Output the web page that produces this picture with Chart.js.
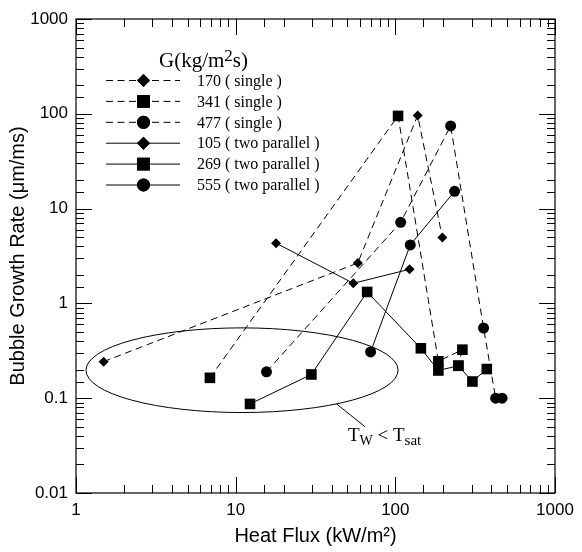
<!DOCTYPE html>
<html>
<head>
<meta charset="utf-8">
<script src="https://cdn.jsdelivr.net/npm/chart.js@4.4.0/dist/chart.umd.min.js"></script>
<style>
  html, body { margin: 0; padding: 0; background: #fff; }
</style>
</head>
<body>
<canvas id="growthChart" width="582" height="552"></canvas>
<script>
// heat flux (kW/m2) and bubble growth rate (um/ms)
var single170X = [1.49, 58.2, 138, 197];
var single170Y = [0.243, 2.67, 96, 4.96];
var single341X = [6.9, 104, 186, 263, 248];
var single341Y = [0.164, 95, 0.245, 0.325, 0.22];
var single477X = [15.6, 108, 222, 357, 425, 466];
var single477Y = [0.19, 7.17, 74.5, 0.55, 0.1, 0.1];
var par105X = [17.9, 54.5, 122.8];
var par105Y = [4.32, 1.63, 2.29];
var par269X = [12.3, 29.8, 66.6, 144.5, 186, 248, 304, 374];
var par269Y = [0.087, 0.178, 1.32, 0.336, 0.196, 0.22, 0.15, 0.203];
var par555X = [70, 124, 235];
var par555Y = [0.308, 4.14, 15.2];

var seriesLabels = ['170 ( single )', '341 ( single )', '477 ( single )',
  '105 ( two parallel )', '269 ( two parallel )', '555 ( two parallel )'];

// region marked "Tw < Tsat" (data units)
var ellipseX = [1.155, 104];
var ellipseY = [0.0706, 0.552];
var leaderX = [42.9, 64.5];
var leaderY = [0.0869, 0.0501];
var noteX = 50.5;
var noteY = 0.0354;

function toPoints(xs, ys) {
  return xs.map(function (x, i) { return { x: x, y: ys[i] }; });
}

function isDecade(v) {
  var l = Math.log10(v);
  return Math.abs(l - Math.round(l)) < 1e-6;
}

var dash = [7, 4.5];

function series(label, xs, ys, style, radius, dashed) {
  return {
    label: label,
    data: toPoints(xs, ys),
    showLine: true,
    borderColor: '#000',
    backgroundColor: '#000',
    borderWidth: 1,
    borderDash: dashed ? dash : [],
    pointStyle: style,
    pointRadius: radius,
    pointHoverRadius: radius,
    pointBorderWidth: 0
  };
}

var datasets = [
  series(seriesLabels[0], single170X, single170Y, 'rectRot', 5, true),
  series(seriesLabels[1], single341X, single341Y, 'rect', 7.5, true),
  series(seriesLabels[2], single477X, single477Y, 'circle', 5.5, true),
  series(seriesLabels[3], par105X, par105Y, 'rectRot', 5, false),
  series(seriesLabels[4], par269X, par269Y, 'rect', 7.5, false),
  series(seriesLabels[5], par555X, par555Y, 'circle', 5.5, false)
];

var legendStyle = [
  { style: 'rectRot', r: 6.5 }, { style: 'rect', r: 9 }, { style: 'circle', r: 6.5 },
  { style: 'rectRot', r: 6.5 }, { style: 'rect', r: 9 }, { style: 'circle', r: 6.5 }
];

function drawParts(ctx, parts, x, y) {
  parts.forEach(function (p) {
    ctx.font = p.size + 'px "Liberation Serif", "Times New Roman", serif';
    ctx.fillText(p.t, x, y + (p.dy || 0));
    x += ctx.measureText(p.t).width;
  });
}

function line(ctx, x1, y1, x2, y2) {
  ctx.beginPath();
  ctx.moveTo(x1, y1);
  ctx.lineTo(x2, y2);
  ctx.stroke();
}

var framePlugin = {
  id: 'framePlugin',
  afterDraw: function (chart) {
    var ctx = chart.ctx, a = chart.chartArea;
    var xs = chart.scales.x, ys = chart.scales.y;
    ctx.save();
    ctx.strokeStyle = '#000';
    ctx.fillStyle = '#000';
    ctx.lineWidth = 1.2;
    ctx.setLineDash([]);
    ctx.strokeRect(a.left, a.top, a.right - a.left, a.bottom - a.top);

    // inward ticks on all four sides
    ctx.lineWidth = 1;
    xs.ticks.forEach(function (t) {
      var px = Math.round(xs.getPixelForValue(t.value)) + 0.5;
      var len = isDecade(t.value) ? 16 : 8;
      line(ctx, px, a.bottom, px, a.bottom - len);
      line(ctx, px, a.top, px, a.top + len);
    });
    ys.ticks.forEach(function (t) {
      var py = Math.round(ys.getPixelForValue(t.value)) + 0.5;
      var len = isDecade(t.value) ? 16 : 8;
      line(ctx, a.left, py, a.left + len, py);
      line(ctx, a.right, py, a.right - len, py);
    });

    // Tw < Tsat region
    var ex1 = xs.getPixelForValue(ellipseX[0]), ex2 = xs.getPixelForValue(ellipseX[1]);
    var ey1 = ys.getPixelForValue(ellipseY[0]), ey2 = ys.getPixelForValue(ellipseY[1]);
    ctx.beginPath();
    ctx.ellipse((ex1 + ex2) / 2, (ey1 + ey2) / 2, Math.abs(ex2 - ex1) / 2, Math.abs(ey2 - ey1) / 2, 0, 0, Math.PI * 2);
    ctx.stroke();
    line(ctx, xs.getPixelForValue(leaderX[0]), ys.getPixelForValue(leaderY[0]),
      xs.getPixelForValue(leaderX[1]), ys.getPixelForValue(leaderY[1]));
    ctx.textBaseline = 'alphabetic';
    drawParts(ctx, [
      { t: 'T', size: 19 }, { t: 'W', size: 14, dy: 4 }, { t: ' < T', size: 19 }, { t: 'sat', size: 15, dy: 4 }
    ], xs.getPixelForValue(noteX), ys.getPixelForValue(noteY));

    // legend
    var lx = a.left + 30, mx = a.left + 67.5, rx = a.left + 104, tx = a.left + 121;
    drawParts(ctx, [
      { t: 'G(kg/m', size: 21 }, { t: '2', size: 17, dy: -6 }, { t: 's)', size: 21 }
    ], a.left + 83, a.top + 48);
    chart.data.datasets.forEach(function (ds, i) {
      var y = a.top + 61.5 + i * 20.9;
      ctx.lineWidth = 1;
      ctx.setLineDash(ds.borderDash);
      line(ctx, lx, y, rx, y);
      ctx.setLineDash([]);
      Chart.helpers.drawPoint(ctx, { pointStyle: legendStyle[i].style, radius: legendStyle[i].r, rotation: 0, borderWidth: 0 }, mx, y);
      ctx.fill();
      ctx.textBaseline = 'middle';
      drawParts(ctx, [{ t: ds.label, size: 16 }], tx, y + 1);
    });
    ctx.restore();
  }
};

var ctx = document.getElementById('growthChart').getContext('2d');

var tickFont = { family: '"Liberation Sans", Arial, sans-serif', size: 17 };
var titleFont = { family: '"Liberation Sans", Arial, sans-serif', size: 20 };

var growthChart = new Chart(ctx, {
  type: 'scatter',
  data: { datasets: datasets },
  options: {
    responsive: false,
    animation: false,
    layout: { padding: { top: 19, right: 27, left: 0, bottom: 0 } },
    plugins: { legend: { display: false }, tooltip: { enabled: false } },
    scales: {
      x: {
        type: 'logarithmic',
        min: 1,
        max: 1000,
        grid: { display: false, drawTicks: false },
        border: { display: false },
        ticks: {
          autoSkip: false,
          maxRotation: 0,
          padding: 7,
          color: '#000',
          font: tickFont,
          callback: function (v) { return isDecade(v) ? String(Number(v.toPrecision(1))) : ''; }
        },
        title: { display: true, text: 'Heat Flux (kW/m²)', color: '#000', font: titleFont, padding: { top: 0, bottom: 4 } },
        afterFit: function (s) { s.height = 59; }
      },
      y: {
        type: 'logarithmic',
        min: 0.01,
        max: 1000,
        grid: { display: false, drawTicks: false },
        border: { display: false },
        ticks: {
          autoSkip: false,
          padding: 8,
          color: '#000',
          font: tickFont,
          callback: function (v) { return isDecade(v) ? String(Number(v.toPrecision(1))) : ''; }
        },
        title: { display: true, text: 'Bubble Growth Rate (μm/ms)', color: '#000', font: titleFont, padding: { top: 6, bottom: 0 } },
        afterFit: function (s) { s.width = 76; }
      }
    }
  },
  plugins: [framePlugin]
});
</script>
</body>
</html>
